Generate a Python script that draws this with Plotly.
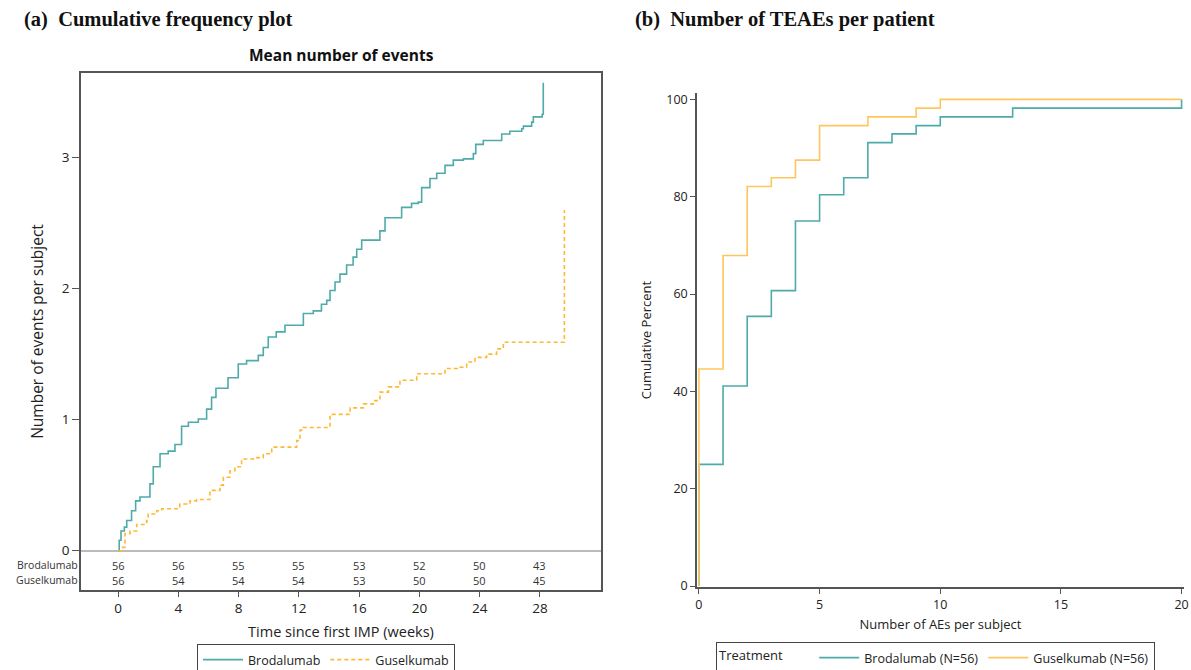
import plotly.graph_objects as go

# ---------------- data: panel (a) mean cumulative number of events ----------------
bro_weeks = [0, 0.08, 0.2, 0.42, 0.58, 0.9, 1.17, 1.46, 2.12, 2.34, 2.79, 3.33, 3.78, 4.22, 4.67,
             5.33, 5.88, 6.21, 6.5, 7.3, 7.98, 8.53, 9.31, 9.64, 9.97, 10.5, 11.08, 12.3, 12.96,
             13.5, 13.85, 14.07, 14.4, 14.73, 15.17, 15.6, 15.84, 16.17, 17.38, 17.72, 18.82,
             19.48, 19.93, 20.15, 20.7, 21.15, 21.7, 22.25, 22.92, 23.58, 23.74, 24.24, 25.46,
             26.0, 26.79, 26.9, 27.45, 27.56, 28.15, 28.22]
bro_mean = [0, 0.08, 0.15, 0.18, 0.23, 0.305, 0.38, 0.41, 0.51, 0.64, 0.74, 0.76, 0.81, 0.95, 0.98,
            1.005, 1.08, 1.17, 1.24, 1.32, 1.425, 1.45, 1.49, 1.55, 1.63, 1.67, 1.72, 1.81, 1.83,
            1.88, 1.91, 1.985, 2.05, 2.11, 2.18, 2.24, 2.30, 2.37, 2.44, 2.54, 2.62,
            2.65, 2.66, 2.77, 2.84, 2.88, 2.94, 2.98, 2.99, 3.03, 3.10, 3.13, 3.18,
            3.20, 3.22, 3.24, 3.27, 3.31, 3.33, 3.57]

gus_weeks = [0, 0.24, 0.46, 0.8, 1.24, 1.9, 2.0, 2.57, 2.9, 4.1, 4.78, 5.22, 6.1, 6.77, 6.99, 7.43,
             7.76, 8.2, 8.98, 9.64, 10.2, 11.86, 12.08, 12.3, 14.07, 15.4, 16.28, 16.94, 17.38,
             17.94, 18.71, 19.82, 21.7, 22.69, 23.14, 23.69, 24.46, 25.12, 25.57, 29.62, 29.62]
gus_mean = [0, 0.025, 0.13, 0.15, 0.20, 0.23, 0.28, 0.305, 0.32, 0.356, 0.38, 0.39, 0.46, 0.50, 0.56,
            0.61, 0.64, 0.70, 0.71, 0.74, 0.79, 0.84, 0.92, 0.94, 1.04, 1.09, 1.12, 1.145, 1.21,
            1.25, 1.30, 1.35, 1.39, 1.40, 1.44, 1.475, 1.50, 1.54, 1.59, 1.59, 2.60]

risk_weeks = [0, 4, 8, 12, 16, 20, 24, 28]
bro_at_risk = [56, 56, 55, 55, 53, 52, 50, 43]
gus_at_risk = [56, 54, 54, 54, 53, 50, 50, 45]
risk_rows = ["Brodalumab", "Guselkumab"]

# ---------------- data: panel (b) cumulative percent of patients by number of TEAEs ----------------
bro_n_aes = [0, 0, 1, 2, 3, 4, 5, 6, 7, 8, 9, 10, 13, 20]
bro_cum_pct = [0, 25.0, 41.1, 55.4, 60.7, 75.0, 80.4, 83.9, 91.1, 92.9, 94.6, 96.4, 98.2, 100.0]
gus_n_aes = [0, 0, 1, 2, 3, 4, 5, 7, 9, 10, 20]
gus_cum_pct = [0, 44.6, 67.9, 82.1, 83.9, 87.5, 94.6, 96.4, 98.2, 100.0, 100.0]

TEAL = "#4EABA9"
ORANGE_DASH = "#FFB833"
ORANGE = "#FFC65E"
AXIS = "#555555"
TXT = "#222222"
FONT = "Open Sans"

W, H = 1191, 670
def px(x):
    return x / W
def py(y):
    return 1 - y / H

fig = go.Figure()

fig.add_trace(go.Scatter(x=bro_weeks, y=bro_mean, mode="lines", line_shape="hv",
                         line=dict(color=TEAL, width=1.6), name="Brodalumab",
                         xaxis="x", yaxis="y", legend="legend"))
fig.add_trace(go.Scatter(x=gus_weeks, y=gus_mean, mode="lines", line_shape="hv",
                         line=dict(color=ORANGE_DASH, width=1.6, dash="4px,3px"), name="Guselkumab",
                         xaxis="x", yaxis="y", legend="legend"))

fig.add_trace(go.Scatter(x=bro_n_aes, y=bro_cum_pct, mode="lines", line_shape="hv",
                         line=dict(color=TEAL, width=1.6), name="Brodalumab (N=56)",
                         xaxis="x2", yaxis="y2", legend="legend2"))
fig.add_trace(go.Scatter(x=gus_n_aes, y=gus_cum_pct, mode="lines", line_shape="hv",
                         line=dict(color=ORANGE, width=1.6), name="Guselkumab (N=56)",
                         xaxis="x2", yaxis="y2", legend="legend2"))

annotations = []
# at-risk table
for wk, b, g in zip(risk_weeks, bro_at_risk, gus_at_risk):
    annotations.append(dict(x=wk, y=-0.11, xref="x", yref="y", text=str(b), showarrow=False,
                            font=dict(size=11, color="#333", family=FONT)))
    annotations.append(dict(x=wk, y=-0.225, xref="x", yref="y", text=str(g), showarrow=False,
                            font=dict(size=11, color="#333", family=FONT)))
for lab, yv in zip(risk_rows, [-0.11, -0.225]):
    annotations.append(dict(x=px(80), y=yv, xref="paper", yref="y", text=lab, showarrow=False,
                            xanchor="right", font=dict(size=10.5, color="#333", family=FONT)))

annotations.append(dict(x=px(22), y=py(20), xref="paper", yref="paper", xanchor="left", yanchor="middle",
                        text="<b>(a)  Cumulative frequency plot</b>", showarrow=False,
                        font=dict(size=20.5, color="#111", family="Liberation Serif")))
annotations.append(dict(x=px(633), y=py(20), xref="paper", yref="paper", xanchor="left", yanchor="middle",
                        text="<b>(b)  Number of TEAEs per patient</b>", showarrow=False,
                        font=dict(size=20.5, color="#111", family="Liberation Serif")))
annotations.append(dict(x=px(341), y=py(55), xref="paper", yref="paper", xanchor="center", yanchor="middle",
                        text="<b>Mean number of events</b>", showarrow=False,
                        font=dict(size=15.5, color="#111", family=FONT)))

fig.update_layout(
    width=W, height=H, margin=dict(l=0, r=0, t=0, b=0, autoexpand=False),
    paper_bgcolor="white", plot_bgcolor="white",
    font=dict(family=FONT, color=TXT, size=12),
    showlegend=True,
    xaxis=dict(domain=[px(81), px(601)], range=[-2.455, 32.05], tickvals=risk_weeks,
               showline=True, mirror=True, linecolor=AXIS, linewidth=1.5,
               ticks="outside", ticklen=5, tickcolor=AXIS, showgrid=False, zeroline=False,
               tickfont=dict(size=13.5),
               title=dict(text="Time since first IMP (weeks)", font=dict(size=14.5), standoff=11),
               anchor="y"),
    yaxis=dict(domain=[py(590), py(73)], range=[-0.30, 3.645], tickvals=[0, 1, 2, 3],
               showline=True, mirror=True, linecolor=AXIS, linewidth=1.5,
               ticks="outside", ticklen=7, tickcolor=AXIS, showgrid=False,
               zeroline=True, zerolinecolor="#BBBBBB", zerolinewidth=1.5,
               tickfont=dict(size=13.5),
               title=dict(text="Number of events per subject", font=dict(size=15.5), standoff=14),
               anchor="x"),
    xaxis2=dict(domain=[px(697), px(1184)], range=[-0.08, 20.1], tickvals=[0, 5, 10, 15, 20],
                showline=True, linecolor=AXIS, linewidth=1.5, ticks="outside", ticklen=5,
                tickcolor=AXIS, showgrid=False, zeroline=False, tickfont=dict(size=12.5),
                title=dict(text="Number of AEs per subject", font=dict(size=13), standoff=8),
                anchor="y2"),
    yaxis2=dict(domain=[py(587), py(93)], range=[-0.2, 101.3], tickvals=[0, 20, 40, 60, 80, 100],
                showline=True, linecolor=AXIS, linewidth=1.5, ticks="outside", ticklen=5,
                tickcolor=AXIS, showgrid=False, zeroline=False, tickfont=dict(size=12.5),
                title=dict(text="Cumulative Percent", font=dict(size=13), standoff=12),
                anchor="x2"),
    legend=dict(orientation="h", x=px(197), y=-0.009, xanchor="left", yanchor="bottom",
                bordercolor="#444", borderwidth=1, bgcolor="white",
                font=dict(size=12.5, color="#222"), itemwidth=40, tracegroupgap=0),
    legend2=dict(orientation="h", x=px(716), y=-0.006, xanchor="left", yanchor="bottom",
                 bordercolor="#444", borderwidth=1, bgcolor="white",
                 title=dict(text="Treatment       ", side="left", font=dict(size=13)),
                 font=dict(size=12.5, color="#222"), itemwidth=40),
    annotations=annotations,
)

fig.write_html("out.html")
